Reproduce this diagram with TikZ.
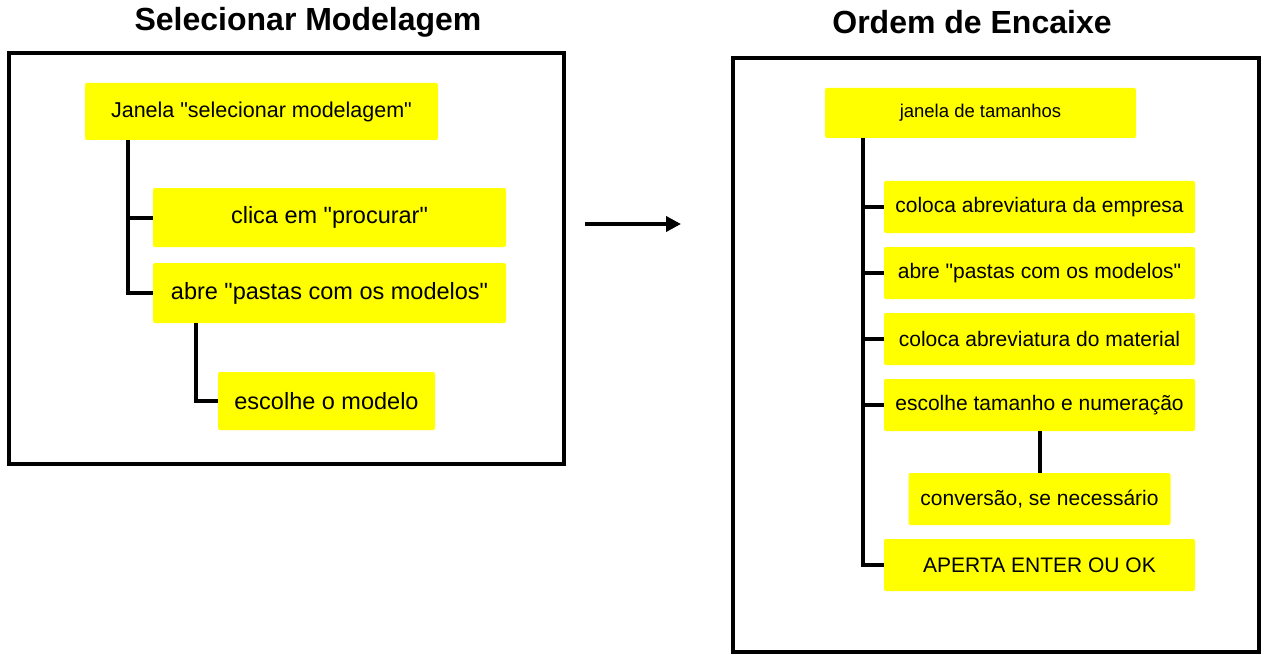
\documentclass[tikz,border=0pt]{standalone}
\usepackage{fontspec}
\setmainfont{Liberation Sans}[Ligatures=TeXOff]
\usetikzlibrary{arrows.meta}
\definecolor{boxyellow}{RGB}{255,255,0}
\tikzset{
  ybox/.style={fill=boxyellow, rounded corners=2pt, inner sep=0pt, align=center, text=black},
  conn/.style={draw=black, line width=4pt},
  frame/.style={draw=black, line width=3.5pt},
  ttl/.style={font=\fontsize{32}{36}\selectfont\bfseries},
  bigtxt/.style={font=\fontsize{23.5}{26}\selectfont},
  midtxt/.style={font=\fontsize{21}{24}\selectfont},
  smalltxt/.style={font=\fontsize{18.5}{21}\selectfont},
}
\begin{document}
\begin{tikzpicture}[x=1pt,y=-1pt]
\useasboundingbox (0,0) rectangle (1265,655);
% titles
\node[ttl] (t1) at (308,22) {Selecionar Modelagem};
\node[ttl] (t2) at (972,22) {Ordem de Encaixe};
% frames
\draw[frame] (9,53) rectangle (564,464);
\draw[frame] (733,58) rectangle (1259,652);
% left nodes
\node[ybox, minimum width=353pt, minimum height=57pt, font=\fontsize{21.5}{24}\selectfont] (L0) at (261.5,111.5) {Janela "selecionar modelagem"};
\node[ybox, bigtxt, minimum width=353pt, minimum height=59pt] (L1) at (329.5,217.5) {clica em "procurar"};
\node[ybox, bigtxt, minimum width=353pt, minimum height=60pt] (L2) at (329.5,293) {abre "pastas com os modelos"};
\node[ybox, bigtxt, minimum width=217pt, minimum height=58pt] (L3) at (326.5,401) {escolhe o modelo};
\draw[conn] ([xshift=43pt]L0.south west) |- (L2.west);
\draw[conn] ([xshift=43pt]L0.south west) |- (L1.west);
\draw[conn] ([xshift=43pt]L2.south west) |- (L3.west);
% arrow
\coordinate (a1) at (585,224);
\coordinate (a2) at (681,224);
\draw[line width=4pt, -{Triangle[length=15pt,width=15pt]}] (a1) -- (a2);
% right nodes
\node[ybox, smalltxt, minimum width=311pt, minimum height=50pt] (R0) at (980.5,113) {janela de tamanhos};
\node[ybox, midtxt, minimum width=311pt, minimum height=52pt] (R1) at (1039.5,207) {coloca abreviatura da empresa};
\node[ybox, midtxt, minimum width=311pt, minimum height=52pt] (R2) at (1039.5,273) {abre "pastas com os modelos"};
\node[ybox, midtxt, minimum width=311pt, minimum height=52pt] (R3) at (1039.5,339) {coloca abreviatura do material};
\node[ybox, midtxt, minimum width=311pt, minimum height=52pt] (R4) at (1039.5,405) {escolhe tamanho e numeração};
\node[ybox, midtxt, minimum width=262pt, minimum height=52pt] (R5) at (1039.5,499) {conversão, se necessário};
\node[ybox, midtxt, minimum width=311pt, minimum height=52pt] (R6) at (1039.5,565) {APERTA ENTER OU OK};
\draw[conn] ([xshift=38pt]R0.south west) |- (R6.west);
\draw[conn] ([xshift=38pt]R0.south west) |- (R1.west);
\draw[conn] ([xshift=38pt]R0.south west) |- (R2.west);
\draw[conn] ([xshift=38pt]R0.south west) |- (R3.west);
\draw[conn] ([xshift=38pt]R0.south west) |- (R4.west);
\draw[conn] (R4.south) -- (R5.north);
\end{tikzpicture}
\end{document}
